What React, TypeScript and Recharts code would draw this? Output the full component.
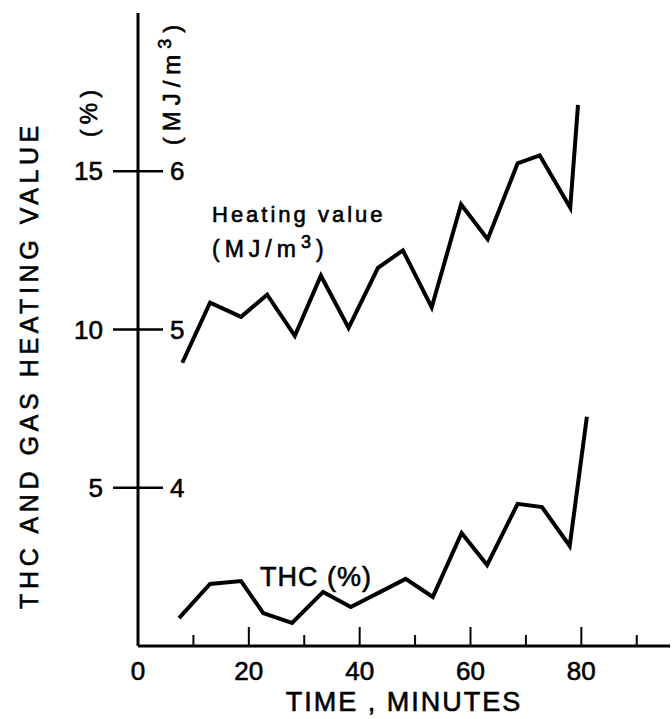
import React from 'react';
import { LineChart, Line, XAxis, YAxis, Label } from 'recharts';

// Heating value (MJ/m3) vs time (minutes)
const heatingTime = [8, 13, 18.6, 23.3, 28.3, 33, 38, 43.3, 47.8, 53, 58.3, 63.1, 68.5, 72.5, 78, 79.4];
const heatingValue = [4.79, 5.17, 5.08, 5.22, 4.96, 5.34, 5.01, 5.39, 5.5, 5.14, 5.79, 5.57, 6.05, 6.1, 5.77, 6.42];

// THC (%) vs time (minutes)
const thcTime = [7.4, 13, 18.6, 22.6, 27.8, 33.4, 38.4, 48.3, 53.2, 58.4, 63, 68.5, 72.9, 77.9, 81];
const thcPercent = [0.88, 1.96, 2.05, 1.04, 0.73, 1.71, 1.23, 2.12, 1.55, 3.57, 2.56, 4.49, 4.39, 3.16, 7.24];

const xTicks = [0, 10, 20, 30, 40, 50, 60, 70, 80, 90];
const xLabelTicks = [0, 20, 40, 60, 80];
const pctTicks = [5, 10, 15];
const mjTicks = [4, 5, 6];

const heatingData = heatingTime.map((t, i) => ({ t, v: heatingValue[i] }));
const thcData = thcTime.map((t, i) => ({ t, v: thcPercent[i] }));

const FONT = '"Liberation Sans", Arial, sans-serif';
const TXT = { fontFamily: FONT, fill: '#000', stroke: '#000', strokeWidth: 0.6 } as const;

const XTick = (props: any) => {
  const { x, y, payload } = props;
  const major = xLabelTicks.includes(payload.value);
  return (
    <g>
      {payload.value !== 0 && (
        <line x1={x} x2={x} y1={y} y2={y - (major ? 19 : 11)} stroke="#000" strokeWidth={2} />
      )}
      {major && (
        <text x={x} y={y + 34} textAnchor="middle" fontSize={26} {...TXT}>
          {payload.value}
        </text>
      )}
    </g>
  );
};

const YTick = (props: any) => {
  const { x, y, payload, index } = props;
  return (
    <g>
      <line x1={x - 25} x2={x + 25} y1={y} y2={y} stroke="#000" strokeWidth={2.5} />
      <text x={x - 35} y={y + 9} textAnchor="end" fontSize={26} {...TXT}>
        {payload.value}
      </text>
      <text x={x + 32} y={y + 9} textAnchor="start" fontSize={26} {...TXT}>
        {mjTicks[index]}
      </text>
    </g>
  );
};

export default function App() {
  return (
    <div style={{ position: 'absolute', left: 0, top: 0, width: 672, height: 719, background: '#fff' }}>
      <LineChart width={672} height={719} margin={{ top: 13, right: 2, left: 0, bottom: 0 }}>
        <XAxis
          type="number"
          dataKey="t"
          domain={[0, 96]}
          allowDataOverflow
          ticks={xTicks}
          tick={<XTick />}
          tickLine={false}
          tickSize={0}
          tickMargin={0}
          height={73}
          axisLine={{ stroke: '#000', strokeWidth: 3 }}
          interval={0}
        >
          <Label
            value="TIME , MINUTES"
            position="insideBottom"
            offset={8}
            style={{ ...TXT, fontSize: 27, letterSpacing: 2 }}
          />
        </XAxis>
        <YAxis
          yAxisId="pct"
          type="number"
          domain={[0, 20]}
          ticks={pctTicks}
          tick={<YTick />}
          tickLine={false}
          tickSize={0}
          tickMargin={0}
          width={138}
          axisLine={{ stroke: '#000', strokeWidth: 3 }}
          interval={0}
        />
        <YAxis yAxisId="mj" type="number" domain={[3, 7]} orientation="right" width={0} hide />
        <Line
          yAxisId="mj"
          data={heatingData}
          dataKey="v"
          stroke="#000"
          strokeWidth={4}
          dot={false}
          isAnimationActive={false}
          type="linear"
        />
        <Line
          yAxisId="pct"
          data={thcData}
          dataKey="v"
          stroke="#000"
          strokeWidth={4}
          dot={false}
          isAnimationActive={false}
          type="linear"
        />
        <text
          transform="translate(38,365) rotate(-90)"
          textAnchor="middle"
          fontSize={25}
          letterSpacing={4.6}
          {...TXT}
        >
          THC AND GAS HEATING VALUE
        </text>
        <text
          transform="translate(97,111) rotate(-90)"
          textAnchor="middle"
          fontSize={24}
          letterSpacing={5}
          {...TXT}
        >
          (%)
        </text>
        <text
          transform="translate(180,82) rotate(-90)"
          textAnchor="middle"
          fontSize={24}
          letterSpacing={6}
          {...TXT}
        >
          (MJ/m
          <tspan dy={-9} fontSize={18}>3</tspan>
          <tspan dy={9}>)</tspan>
        </text>
        <text x={212} y={222} fontSize={22} letterSpacing={3} {...TXT}>
          Heating value
        </text>
        <text x={212} y={257} fontSize={23} letterSpacing={5} {...TXT}>
          (MJ/m
          <tspan dy={-9} fontSize={18}>3</tspan>
          <tspan dy={9}>)</tspan>
        </text>
        <text x={260} y={586} fontSize={27} letterSpacing={1} {...TXT}>
          THC (%)
        </text>
      </LineChart>
    </div>
  );
}
